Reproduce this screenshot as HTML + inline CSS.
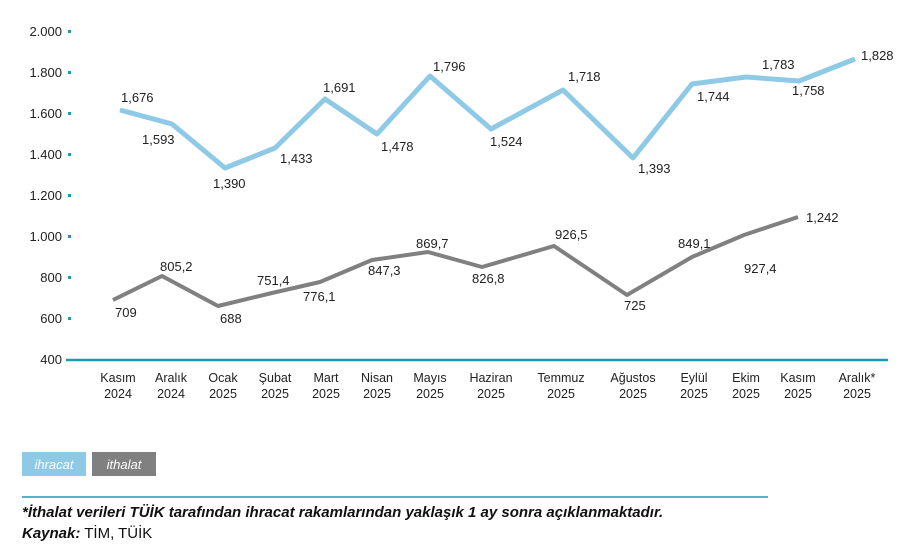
<!DOCTYPE html>
<html><head><meta charset="utf-8"><style>
body{margin:0;background:#fff;width:909px;height:555px;overflow:hidden;font-family:"Liberation Sans",sans-serif;}
</style></head><body>
<svg width="909" height="555" xmlns="http://www.w3.org/2000/svg" style="position:absolute;left:0;top:0">
<g font-size="13" fill="#222" text-anchor="end">
<text x="62" y="36">2.000</text><text x="62" y="77">1.800</text><text x="62" y="118">1.600</text><text x="62" y="159">1.400</text><text x="62" y="200">1.200</text><text x="62" y="241">1.000</text><text x="62" y="282">800</text><text x="62" y="323">600</text><text x="62" y="364">400</text>
</g>
<g fill="#1a9bb0"><rect x="68" y="30" width="3" height="3"/><rect x="68" y="71" width="3" height="3"/><rect x="68" y="112" width="3" height="3"/><rect x="68" y="153" width="3" height="3"/><rect x="68" y="194" width="3" height="3"/><rect x="68" y="235" width="3" height="3"/><rect x="68" y="276" width="3" height="3"/><rect x="68" y="317" width="3" height="3"/></g>
<line x1="66" y1="360" x2="888" y2="360" stroke="#1a9bb0" stroke-width="2.5"/>
<polyline fill="none" stroke="#8ecae6" stroke-width="5" stroke-linejoin="round" points="120,110 172,124 225,168 275,148 325,99 377,134 430,76 491,129 563,90 633,158 692,84 746,77 799,81 855,59"/>
<polyline fill="none" stroke="#808080" stroke-width="4" stroke-linejoin="round" points="113,300 162,276 218,306 272,293 320,282 372,260 428,252 482,267 554,246 627,295 692,257 744,235 798,217"/>
<g font-size="13" fill="#222">
<text x="121" y="102">1,676</text><text x="142" y="144">1,593</text><text x="213" y="188">1,390</text><text x="280" y="163">1,433</text><text x="323" y="92">1,691</text><text x="381" y="151">1,478</text><text x="433" y="71">1,796</text><text x="490" y="146">1,524</text><text x="568" y="81">1,718</text><text x="638" y="173">1,393</text><text x="697" y="101">1,744</text><text x="762" y="69">1,783</text><text x="792" y="95">1,758</text><text x="861" y="60">1,828</text>
<text x="115" y="317">709</text><text x="160" y="271">805,2</text><text x="220" y="323">688</text><text x="257" y="285">751,4</text><text x="303" y="301">776,1</text><text x="368" y="275">847,3</text><text x="416" y="248">869,7</text><text x="472" y="283">826,8</text><text x="555" y="239">926,5</text><text x="624" y="310">725</text><text x="678" y="248">849,1</text><text x="744" y="273">927,4</text><text x="806" y="222">1,242</text>
</g>
<g font-size="12.5" fill="#222" text-anchor="middle">
<text x="118" y="382">Kasım</text><text x="118" y="398">2024</text>
<text x="171" y="382">Aralık</text><text x="171" y="398">2024</text>
<text x="223" y="382">Ocak</text><text x="223" y="398">2025</text>
<text x="275" y="382">Şubat</text><text x="275" y="398">2025</text>
<text x="326" y="382">Mart</text><text x="326" y="398">2025</text>
<text x="377" y="382">Nisan</text><text x="377" y="398">2025</text>
<text x="430" y="382">Mayıs</text><text x="430" y="398">2025</text>
<text x="491" y="382">Haziran</text><text x="491" y="398">2025</text>
<text x="561" y="382">Temmuz</text><text x="561" y="398">2025</text>
<text x="633" y="382">Ağustos</text><text x="633" y="398">2025</text>
<text x="694" y="382">Eylül</text><text x="694" y="398">2025</text>
<text x="746" y="382">Ekim</text><text x="746" y="398">2025</text>
<text x="798" y="382">Kasım</text><text x="798" y="398">2025</text>
<text x="857" y="382">Aralık*</text><text x="857" y="398">2025</text>
</g>
<rect x="22" y="452" width="64" height="24" fill="#8ecae6"/>
<rect x="92" y="452" width="64" height="24" fill="#808080"/>
<text x="54" y="469" font-size="13" fill="#fff" font-style="italic" text-anchor="middle">ihracat</text>
<text x="124" y="469" font-size="13" fill="#fff" font-style="italic" text-anchor="middle">ithalat</text>
<line x1="22" y1="497" x2="768" y2="497" stroke="#1a9bb0" stroke-width="1.5"/>
<text x="22" y="517" font-size="15" font-weight="bold" font-style="italic" fill="#111">*İthalat verileri TÜİK tarafından ihracat rakamlarından yaklaşık 1 ay sonra açıklanmaktadır.</text>
<text x="22" y="538" font-size="15" fill="#111"><tspan font-weight="bold" font-style="italic">Kaynak:</tspan> TİM, TÜİK</text>
</svg>
</body></html>
